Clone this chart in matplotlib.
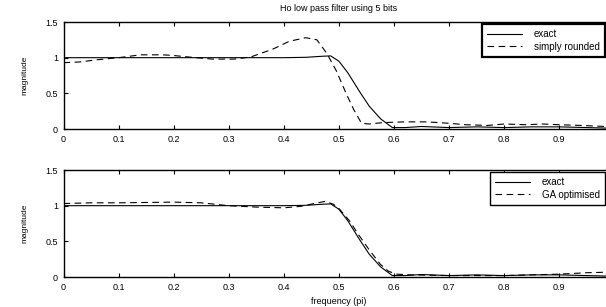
import matplotlib
matplotlib.use('Agg')
import matplotlib.pyplot as plt

plt.rcParams['font.family'] = ['Liberation Sans', 'DejaVu Sans']

# frequence (x pi) et amplitude
f_exact = [0, 0.1, 0.2, 0.3, 0.4, 0.44, 0.47, 0.485, 0.5, 0.516, 0.537, 0.555,
           0.576, 0.597, 0.62, 0.65, 0.7, 0.75, 0.8, 0.85, 0.9, 0.95, 1.0]
m_exact = [1.0, 1.0, 1.0, 1.0, 1.0, 1.005, 1.02, 1.025, 0.95, 0.79, 0.53, 0.32,
           0.14, 0.02, 0.02, 0.035, 0.02, 0.03, 0.02, 0.03, 0.03, 0.02, 0.01]

f_round = [0, 0.03, 0.06, 0.1, 0.14, 0.18, 0.2, 0.24, 0.27, 0.31, 0.34, 0.38,
           0.41, 0.44, 0.46, 0.478, 0.495, 0.513, 0.527, 0.541, 0.555, 0.58,
           0.62, 0.66, 0.7, 0.73, 0.77, 0.8, 0.84, 0.87, 0.9, 0.94, 0.97, 1.0]
m_round = [0.93, 0.94, 0.97, 1.0, 1.04, 1.04, 1.03, 1.0, 0.98, 0.98, 1.01, 1.12,
           1.23, 1.28, 1.25, 1.06, 0.82, 0.5, 0.27, 0.08, 0.07, 0.09,
           0.1, 0.1, 0.08, 0.06, 0.05, 0.07, 0.06, 0.07, 0.06, 0.05, 0.04, 0.03]

f_ga = [0, 0.05, 0.1, 0.2, 0.25, 0.3, 0.35, 0.4, 0.43, 0.455, 0.475, 0.49, 0.5,
        0.52, 0.535, 0.555, 0.575, 0.59, 0.605, 0.63, 0.7, 0.8, 0.85, 0.9, 0.95, 1.0]
m_ga = [1.03, 1.04, 1.04, 1.05, 1.04, 1.0, 0.98, 0.97, 0.99, 1.03, 1.06, 1.02, 0.96,
        0.78, 0.6, 0.38, 0.18, 0.08, 0.04, 0.03, 0.02, 0.02, 0.03, 0.04, 0.06, 0.07]

xticks = [0, 0.1, 0.2, 0.3, 0.4, 0.5, 0.6, 0.7, 0.8, 0.9]
yticks = [0, 0.5, 1, 1.5]
fs = 6.5

fig = plt.figure(figsize=(6.06, 3.07), dpi=100)
ax1 = fig.add_axes([0.1048, 0.5798, 0.909, 0.3485])
ax2 = fig.add_axes([0.1048, 0.0977, 0.909, 0.3485])


def style(ax):
    ax.set_xlim(0, 1)
    ax.set_ylim(0, 1.5)
    ax.set_xticks(xticks)
    ax.set_xticklabels([('%g' % t) for t in xticks])
    ax.set_yticks(yticks)
    ax.set_yticklabels([('%g' % t) for t in yticks])
    ax.tick_params(direction='in', length=3, width=0.8, labelsize=fs,
                   top=True, right=True, pad=4)
    for s in ax.spines.values():
        s.set_linewidth(1.0)
    ax.set_ylabel('magnitude', fontsize=fs - 0.5, labelpad=12)


def legende(ax, lw):
    leg = ax.legend(loc='upper right', bbox_to_anchor=(0.983, 0.985),
                    fontsize=7, fancybox=False, edgecolor='black',
                    handlelength=3.6, handletextpad=1.2, borderpad=0.55,
                    borderaxespad=0, framealpha=1, labelspacing=0.3)
    leg.get_frame().set_linewidth(lw)


# graphique du haut : arrondi simple
ax1.plot(f_exact, m_exact, color='black', lw=0.8, label='exact')
ax1.plot(f_round, m_round, color='black', lw=0.8, ls=(0, (6, 4)),
         label='simply rounded')
style(ax1)
ax1.set_title('Ho low pass filter using 5 bits', fontsize=fs, pad=8)
legende(ax1, 1.6)

# graphique du bas : optimisation GA
ax2.plot(f_exact, m_exact, color='black', lw=0.8, label='exact')
ax2.plot(f_ga, m_ga, color='black', lw=0.8, ls=(0, (6, 4)),
         label='GA optimised')
style(ax2)
ax2.set_xlabel('frequency (pi)', fontsize=fs, labelpad=4)
legende(ax2, 1.0)

plt.savefig('out.png', dpi=100)
plt.close()
